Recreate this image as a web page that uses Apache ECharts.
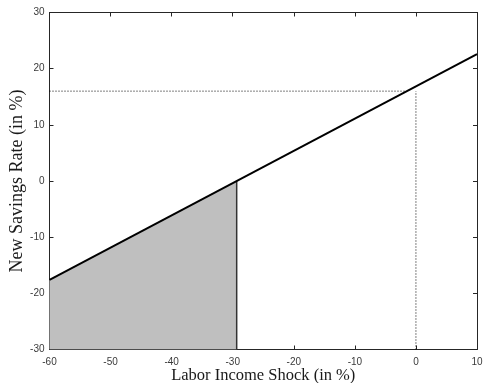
<!DOCTYPE html>
<html><head><meta charset="utf-8">
<script src="https://cdn.jsdelivr.net/npm/echarts@6/dist/echarts.min.js"></script>
<style>html,body{margin:0;padding:0;background:#fff}#c{width:484px;height:383px}</style>
</head><body><div id="c"></div>
<script>
// Data
const xTicks = [-60, -50, -40, -30, -20, -10, 0, 10];
const yTicks = [-30, -20, -10, 0, 10, 20, 30];
const savingsLineX = [-60, 10];
const savingsLineY = [-17.6, 22.6];
const shadeX = [-60, -29.35];
const shadeY = [-17.6, 0];
const zeroCrossX = -29.35;
const refShockX = 0;
const refRateY = 16;
const refLineEndX = -1.6;

const chart = echarts.init(document.getElementById('c'), null, {renderer: 'canvas'});
const frame = '#262626';
const labelFont = {fontFamily: 'Liberation Sans', fontSize: 10, color: '#3a3a3a'};
const titleFontX = {fontFamily: 'Liberation Serif', fontSize: 16.5, color: '#1a1a1a'};
const titleFontY = {fontFamily: 'Liberation Serif', fontSize: 18, color: '#1a1a1a'};
function axisBase(extra) {
  return Object.assign({
    type: 'value',
    axisLine: {show: true, onZero: false, lineStyle: {color: frame, width: 1}},
    axisTick: {show: true, inside: true, length: 4, lineStyle: {color: frame}},
    splitLine: {show: false}
  }, extra);
}
const toPairs = (xs, ys) => xs.map((x, i) => [x, ys[i]]);

chart.setOption({
  animation: false,
  grid: {left: 49.5, right: 7, top: 12.5, bottom: 33.5, containLabel: false, outerBoundsMode: 'none'},
  xAxis: [
    axisBase({min: xTicks[0], max: xTicks[xTicks.length - 1], interval: 10, position: 'bottom',
      name: 'Labor Income Shock (in %)', nameLocation: 'middle', nameGap: 18, nameMoveOverlap: false,
      nameTextStyle: titleFontX, axisLabel: Object.assign({margin: 8}, labelFont)}),
    axisBase({min: xTicks[0], max: xTicks[xTicks.length - 1], interval: 10, position: 'top', axisLabel: {show: false}})
  ],
  yAxis: [
    axisBase({min: yTicks[0], max: yTicks[yTicks.length - 1], interval: 10, position: 'left',
      name: 'New Savings Rate (in %)', nameLocation: 'middle', nameGap: 23, nameMoveOverlap: false,
      nameTextStyle: titleFontY, axisLabel: Object.assign({margin: 5}, labelFont)}),
    axisBase({min: yTicks[0], max: yTicks[yTicks.length - 1], interval: 10, position: 'right', axisLabel: {show: false}})
  ],
  series: [
    {type: 'line', data: toPairs(shadeX, shadeY), symbol: 'none', lineStyle: {width: 0},
      areaStyle: {color: '#bfbfbf', opacity: 1, origin: 'start'}, z: 1},
    {type: 'line', data: [[zeroCrossX, yTicks[0]], [zeroCrossX, 0]], symbol: 'none',
      lineStyle: {color: '#333', width: 1.5}, z: 2},
    {type: 'line', data: [[xTicks[0], refRateY], [refLineEndX, refRateY]], symbol: 'none',
      lineStyle: {color: '#000', width: 1, type: [1, 2]}, z: 2},
    {type: 'line', data: [[refShockX, yTicks[0]], [refShockX, refRateY]], symbol: 'none',
      lineStyle: {color: '#000', width: 1, type: [1, 2]}, z: 2},
    {type: 'line', data: toPairs(savingsLineX, savingsLineY), symbol: 'none',
      lineStyle: {color: '#000', width: 2}, z: 3}
  ]
});
</script></body></html>
